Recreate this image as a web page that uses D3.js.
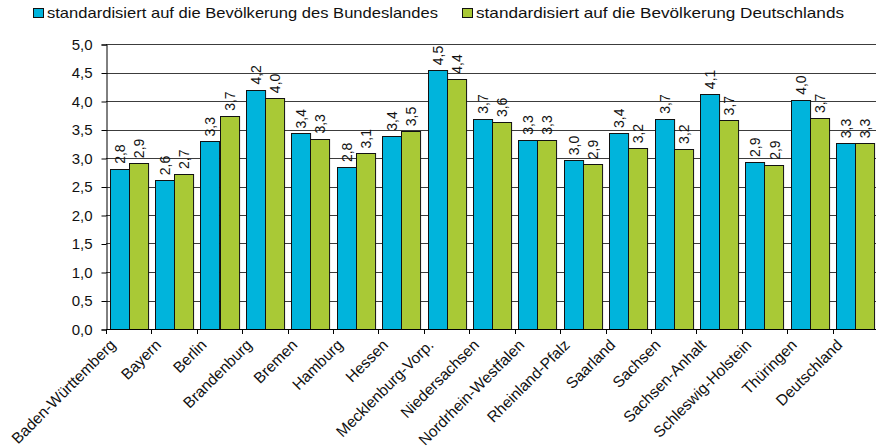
<!DOCTYPE html>
<html lang="de">
<head>
<meta charset="UTF-8" />
<script src="https://d3js.org/d3.v7.min.js"></script>
<title>Bundeslaender</title>
<style>
  body { margin: 0; background: #fff; }
  text { font-family: "Liberation Sans", Arial, sans-serif; fill: #111; }
</style>
</head>
<body>
<script>
var w = 876;
var h = 447;

// data
var laender = ["Baden-Württemberg", "Bayern", "Berlin", "Brandenburg", "Bremen", "Hamburg", "Hessen",
  "Mecklenburg-Vorp.", "Niedersachsen", "Nordrhein-Westfalen", "Rheinland-Pfalz", "Saarland", "Sachsen",
  "Sachsen-Anhalt", "Schleswig-Holstein", "Thüringen", "Deutschland"];
var bundesland = [2.81, 2.61, 3.29, 4.20, 3.43, 2.84, 3.39, 4.54, 3.69, 3.32, 2.96, 3.44, 3.69, 4.12, 2.93, 4.02, 3.26];
var deutschland = [2.91, 2.72, 3.74, 4.05, 3.34, 3.08, 3.47, 4.39, 3.63, 3.32, 2.89, 3.17, 3.16, 3.66, 2.88, 3.70, 3.26];
var seriesNames = ["standardisiert auf die Bevölkerung des Bundeslandes", "standardisiert auf die Bevölkerung Deutschlands"];
var colors = ["#00b4dc", "#a9c936"];
var yTicks = [0, 0.5, 1, 1.5, 2, 2.5, 3, 3.5, 4, 4.5, 5];

var fmt = function (v) { return d3.format(".1f")(v).replace(".", ","); };

var plotLeft = 106, plotRight = 878, plotTop = 44, plotBottom = 329;

var svg = d3.select("body").append("svg")
  .attr("width", w)
  .attr("height", h);

var x = d3.scaleBand().domain(laender).range([plotLeft, plotRight]).paddingInner(0.16).paddingOuter(0.08);
var x1 = d3.scaleBand().domain([0, 1]).range([0, x.bandwidth()]);
var y = d3.scaleLinear().domain([0, 5]).range([plotBottom, plotTop]);

// gridlines
svg.append("g").selectAll("line")
  .data(yTicks.slice(1))
  .enter().append("line")
  .attr("x1", plotLeft).attr("x2", plotRight)
  .attr("y1", function (d) { return Math.round(y(d)) + 0.5; })
  .attr("y2", function (d) { return Math.round(y(d)) + 0.5; })
  .attr("stroke", "#3c3c3c");

// y axis
var yAxis = d3.axisLeft(y).tickValues(yTicks).tickSize(5).tickPadding(9).tickFormat(fmt);
var gy = svg.append("g").attr("transform", "translate(" + (plotLeft + 0.5) + ",0.5)").call(yAxis);
gy.select(".domain").attr("stroke", "#000");
gy.selectAll("text").style("font-size", "15px").style("font-family", "Liberation Sans, Arial, sans-serif").attr("fill", "#111");

// bars
var series = [bundesland, deutschland];
series.forEach(function (vals, si) {
  var g = svg.append("g");
  g.selectAll("rect")
    .data(vals)
    .enter().append("rect")
    .attr("x", function (d, i) { return Math.round(x(laender[i]) + x1(si)) + 0.5; })
    .attr("y", function (d) { return Math.round(y(d)) + 0.5; })
    .attr("width", x1.bandwidth())
    .attr("height", function (d) { return plotBottom - Math.round(y(d)); })
    .attr("fill", colors[si])
    .attr("stroke", "#111")
    .attr("stroke-width", 1);

  g.selectAll("text")
    .data(vals)
    .enter().append("text")
    .attr("transform", function (d, i) {
      var cx = x(laender[i]) + x1(si) + x1.bandwidth() / 2 + 5.5;
      return "translate(" + cx + "," + (y(d) - 5) + ") rotate(-90)";
    })
    .style("font-size", "14px")
    .text(function (d) { return fmt(d); });
});

// x axis
var ticks = laender.map(function (d) { return x(d) - x.step() * x.paddingInner() / 2; });
ticks.push(plotRight);
svg.append("g").selectAll("line")
  .data(ticks)
  .enter().append("line")
  .attr("x1", function (d) { return Math.round(d) + 0.5; })
  .attr("x2", function (d) { return Math.round(d) + 0.5; })
  .attr("y1", plotBottom).attr("y2", plotBottom + 5)
  .attr("stroke", "#000");
svg.append("line")
  .attr("x1", plotLeft).attr("x2", plotRight)
  .attr("y1", plotBottom + 0.5).attr("y2", plotBottom + 0.5)
  .attr("stroke", "#000");

svg.append("g").selectAll("text")
  .data(laender)
  .enter().append("text")
  .attr("text-anchor", "end")
  .attr("transform", function (d) {
    return "translate(" + (x(d) + x.bandwidth() / 2 - 12) + "," + (plotBottom + 17) + ") rotate(-45)";
  })
  .style("font-size", "15.5px")
  .text(function (d) { return d; });

// legend
var legendX = [33, 462];
var legendLen = [391, 368];
seriesNames.forEach(function (name, i) {
  svg.append("rect")
    .attr("x", legendX[i] + 0.5).attr("y", 8.5)
    .attr("width", 10).attr("height", 9)
    .attr("fill", colors[i]).attr("stroke", "#111");
  svg.append("text")
    .attr("x", legendX[i] + 14).attr("y", 18)
    .attr("textLength", legendLen[i])
    .attr("lengthAdjust", "spacingAndGlyphs")
    .style("font-size", "15px")
    .text(name);
});
</script>
</body>
</html>
